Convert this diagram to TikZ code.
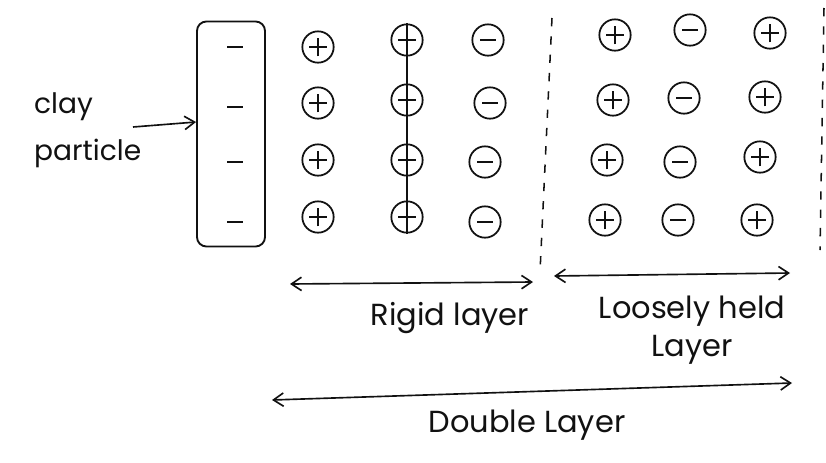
\documentclass[tikz,border=0pt]{standalone}
\usepackage{fontspec}
\setmainfont{Poppins}
\usepackage{tikz}
\usetikzlibrary{arrows.meta,positioning}
\definecolor{ink}{HTML}{111111}
\tikzset{
  ion/.style={
    circle,draw=ink,line width=1.5pt,minimum size=9.4mm,inner sep=0pt
  },
  plusion/.style={ion,
    path picture={\draw[ink,line width=1.4pt]
      (path picture bounding box.center) +(-2.6mm,0) -- +(2.6mm,0)
      +(0,-2.8mm) -- +(0,2.8mm);}
  },
  minusion/.style={ion,
    path picture={\draw[ink,line width=1.4pt]
      (path picture bounding box.center) +(-2.4mm,0) -- +(2.4mm,0);}
  },
  charge/.style={inner sep=0pt,minimum width=5mm,minimum height=.7mm,fill=ink},
  tag/.style={text=ink,font=\fontsize{26}{32}\selectfont,align=center},
  arrow/.style={{Straight Barb[length=3mm,width=4mm]}-{Straight Barb[length=3mm,width=4mm]},draw=ink,line width=1.4pt},
  pointer/.style={-{Straight Barb[length=3mm,width=4mm]},draw=ink,line width=1.4pt},
  boundary/.style={draw=ink,line width=1.3pt,dash pattern=on 2.5mm off 3mm}
}
\begin{document}
\begin{tikzpicture}[x=0.3mm,y=-0.3mm]
\useasboundingbox (0,0) rectangle (826,462);

% clay particle with its negative charges
\node[draw=ink,line width=1.6pt,rounded corners=8pt,minimum width=20.4mm,minimum height=67.5mm] (clay) at (231,134) {};
\node[charge] (m1) at (235,47) {};
\node[charge] (m2) at (235,107) {};
\node[charge] (m3) at (235,162) {};
\node[charge] (m4) at (235,222) {};

\node[tag,align=left,anchor=west,font=\fontsize{24}{40}\selectfont] (claylbl) at (30,130) {clay\\particle};
\coordinate (ptr) at (133,127);
\draw[pointer] (ptr) -- (clay.west |- 0,122);

% rigid layer ions
\node[plusion] (a1) at (318,47) {};
\node[plusion] (a2) at (318,103) {};
\node[plusion] (a3) at (318,160) {};
\node[plusion] (a4) at (318,217) {};
\node[plusion] (b1) at (407,40) {};
\node[plusion] (b2) at (407,100) {};
\node[plusion] (b3) at (407,160) {};
\node[plusion] (b4) at (407,217) {};
\node[minusion] (c1) at (488,40) {};
\node[minusion] (c2) at (490,103) {};
\node[minusion] (c3) at (485,162) {};
\node[minusion] (c4) at (485,222) {};
\draw[ink,line width=1.4pt] (b1.north) -- (b4.south);

% loosely held ions
\node[plusion] (d1) at (615,35) {};
\node[plusion] (d2) at (613,100) {};
\node[plusion] (d3) at (607,160) {};
\node[plusion] (d4) at (605,220) {};
\node[minusion] (e1) at (690,30) {};
\node[minusion] (e2) at (684,98) {};
\node[minusion] (e3) at (680,162) {};
\node[minusion] (e4) at (678,220) {};
\node[plusion] (f1) at (770,33) {};
\node[plusion] (f2) at (765,97) {};
\node[plusion] (f3) at (760,157) {};
\node[plusion] (f4) at (757,220) {};

% boundaries
\coordinate (s1) at (552,18);
\coordinate (s2) at (540,272);
\draw[boundary] (s1) -- (s2);
\coordinate (t1) at (824,8);
\coordinate (t2) at (820,250);
\draw[boundary] (t1) -- (t2);

% layer extents
\coordinate (r1) at (290,284);
\coordinate (r2) at (533,282);
\draw[arrow] (r1) -- (r2);
\node[tag] (rigid) at (450,318) {Rigid layer};

\coordinate (l1) at (554,276);
\coordinate (l2) at (790,273);
\draw[arrow] (l1) -- (l2);
\node[tag] (loose) at (692,330) {Loosely held\\Layer};

\coordinate (u1) at (272,400);
\coordinate (u2) at (792,383);
\draw[arrow] (u1) -- (u2);
\node[tag] (double) at (527,425) {Double Layer};
\end{tikzpicture}
\end{document}
